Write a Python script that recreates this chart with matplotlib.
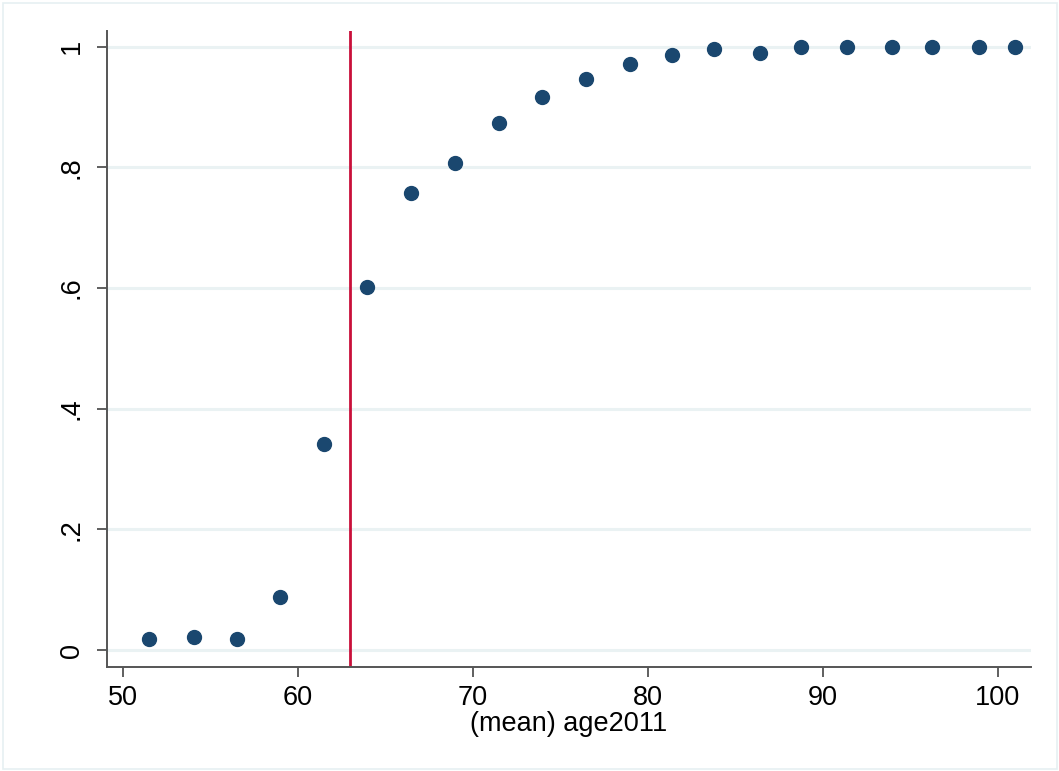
import matplotlib.pyplot as plt
from matplotlib.patches import Rectangle

plt.rcParams['font.family'] = ['Liberation Sans', 'DejaVu Sans']

# binned means of age2011 and share
age_mean = [51.5, 54.05, 56.5, 59.0, 61.5, 63.95, 66.45, 69.0, 71.5, 73.95, 76.45,
            79.0, 81.4, 83.8, 86.4, 88.75, 91.4, 93.95, 96.25, 98.9, 100.95]
share = [0.019, 0.021, 0.018, 0.088, 0.342, 0.602, 0.758, 0.808, 0.874, 0.917, 0.947,
         0.972, 0.986, 0.996, 0.989, 1.0, 1.0, 1.0, 1.0, 1.0, 1.0]
cutoff = 63
xticks = [50, 60, 70, 80, 90, 100]
yticks = [0, 0.2, 0.4, 0.6, 0.8, 1]
ytick_labels = ["0", ".2", ".4", ".6", ".8", "1"]

fig = plt.figure(figsize=(10.59, 7.71), dpi=100)
ax = fig.add_axes([107/1059, 104/771, (1031-107)/1059, (667-30.7)/771])

# kant rundt om grafen (Stata graph region)
fig.patches.append(Rectangle((0.003, 0.002), 0.995, 0.994, transform=fig.transFigure,
                             fill=False, edgecolor='#e6f0f2', linewidth=1.2))

for y in yticks:
    ax.axhline(y, color='#eaf2f3', linewidth=2.2, zorder=0)

ax.axvline(cutoff, color='#c90f3a', linewidth=2, zorder=2)
ax.plot(age_mean, share, 'o', color='#1a476f', markersize=10, zorder=3)

ax.set_xlim(49.09, 101.89)
ax.set_ylim(-0.028, 1.0265)
ax.set_xticks(xticks)
ax.set_yticks(yticks)
ax.set_yticklabels(ytick_labels, rotation=90, va='center')
ax.tick_params(axis='both', direction='out', length=7, width=1.2, color='#444444',
               labelsize=19.5)
ax.tick_params(axis='x', pad=6)
ax.tick_params(axis='y', pad=9)
ax.set_xlabel("(mean) age2011", fontsize=19.5, labelpad=0)

for side in ['top', 'right']:
    ax.spines[side].set_visible(False)
for side in ['left', 'bottom']:
    ax.spines[side].set_color('#555555')
    ax.spines[side].set_linewidth(1.4)

fig.savefig("out.png", dpi=100)
